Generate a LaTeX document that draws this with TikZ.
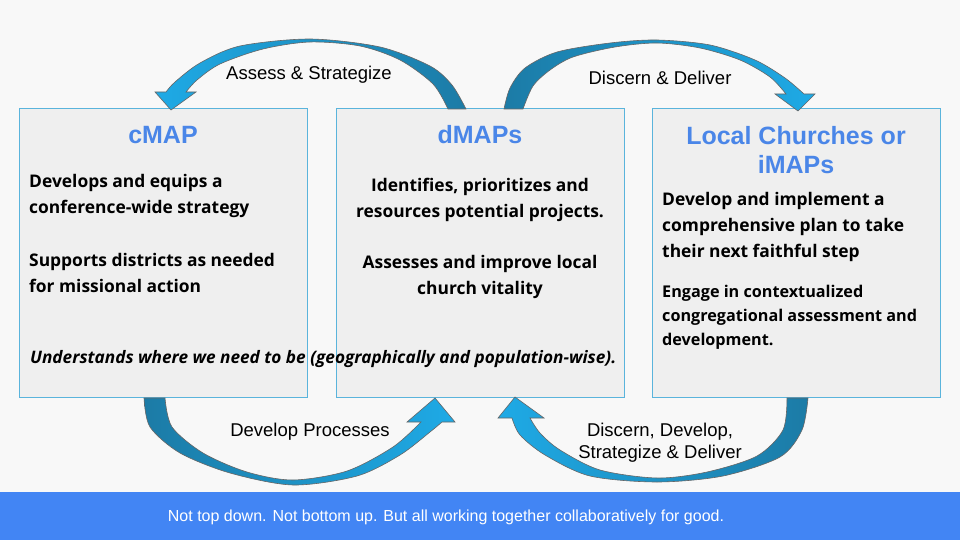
\documentclass[tikz,border=0pt]{standalone}
\usepackage{fontspec}
\setmainfont{Open Sans}
\newfontfamily\arialfont{Liberation Sans}
\usetikzlibrary{positioning}
\definecolor{pagebg}{HTML}{F8F8F8}
\definecolor{boxfill}{HTML}{EFEFEF}
\definecolor{boxline}{HTML}{5AB4DC}
\definecolor{titleblue}{HTML}{4A86E8}
\definecolor{bannerblue}{HTML}{4285F4}
\definecolor{arrowlight}{HTML}{1EAAE6}
\definecolor{arrowdark}{HTML}{1C7BA6}
\tikzset{
  mapbox/.style={rectangle, draw=boxline, fill=boxfill, line width=1pt, minimum width=288pt, minimum height=288pt, inner sep=0pt, outer sep=0pt},
  maptitle/.style={font=\arialfont\bfseries\fontsize{25}{29}\selectfont, text=titleblue, align=center, inner sep=0pt},
  bodytext/.style={font=\bfseries\fontsize{17.4}{26}\selectfont, inner sep=0pt},
  looptext/.style={font=\arialfont\fontsize{18.5}{22}\selectfont, align=center, inner sep=0pt},
  looparrow/.style={draw=black!60, line width=0.6pt}
}

\begin{document}
\begin{tikzpicture}[x=1pt, y=-1pt, node distance=29pt]
\useasboundingbox (0,0) rectangle (960,540);
\fill[pagebg] (0,0) rectangle (960,540);

% Boxes
\node (cmap) [mapbox] at (163,253) {};
\node (dmaps) [mapbox, right=29pt of cmap] {};
\node (local) [mapbox, right=28pt of dmaps] {};

% Loop arrows
\shadedraw[looparrow, left color=arrowlight, right color=arrowdark]
  plot[smooth] coordinates {(466,109) (452,85) (430,66) (380,47) (310,39) (240,46) (200,63) (175,82) (166,92)}
  -- (155,92) -- (171,110) -- (196,92)
  -- plot[smooth] coordinates {(186,92) (197,80) (220,64) (263,49) (310,42) (360,46) (400,60) (433,84) (448,109)} -- cycle;
\shadedraw[looparrow, left color=arrowdark, right color=arrowlight]
  plot[smooth] coordinates {(504,109) (510,88) (525,68) (557,52) (610,43) (657,40) (710,45) (755,60) (785,78) (804,94)}
  -- (815,94) -- (798,111) -- (775,94)
  -- plot[smooth] coordinates {(786,94) (770,77) (740,60) (700,48) (657,43) (615,47) (573,57) (550,70) (533,86) (523,109)} -- cycle;
\shadedraw[looparrow, left color=arrowdark, right color=arrowlight]
  plot[smooth] coordinates {(144,398) (150,427) (180,453) (230,473) (293,485) (357,476) (400,455) (430,432) (442,422)}
  -- (455,422) -- (435,398) -- (407,422)
  -- plot[smooth] coordinates {(421,422) (393,447) (347,471) (293,480) (247,472) (203,453) (172,427) (165,398)} -- cycle;
\shadedraw[looparrow, left color=arrowlight, right color=arrowdark]
  plot[smooth] coordinates {(808,398) (802,430) (780,457) (723,476) (657,482) (590,476) (545,455) (520,435) (512,418)}
  -- (498,418) -- (515,397) -- (544,418)
  -- plot[smooth] coordinates {(530,418) (540,433) (560,450) (600,470) (657,478) (707,472) (757,456) (783,430) (787,398)} -- cycle;

% Arrow labels
\node (assess) [looptext] at (309,75) {Assess \& Strategize};
\node (discern) [looptext] at (660,78) {Discern \& Deliver};
\node (develop) [looptext] at (310,432) {Develop Processes};
\node (deliver) [looptext] at (660,443) {Discern, Develop,\\Strategize \& Deliver};

% Titles
\node (cmaptitle) [maptitle] at (163,135) {cMAP};
\node (dmapstitle) [maptitle] at (480,135) {dMAPs};
\node (localtitle) [maptitle] at (796,150) {Local Churches or\\iMAPs};

% Box texts
\node (equips) [bodytext, align=left, anchor=west] at (29,196) {Develops and equips a\\conference-wide strategy};
\node (supports) [bodytext, align=left, anchor=west] at (29,273) {Supports districts as needed\\for missional action};
\node (understands) [bodytext, anchor=west, font=\bfseries\itshape\fontsize{17.2}{26}\selectfont] at (30,359) {Understands where we need to be (geographically and population-wise).};
\node (identifies) [bodytext, align=center] at (480,200) {Identifies, prioritizes and\\resources potential projects.};
\node (assesses) [bodytext, align=center] at (480,277) {Assesses and improve local\\church vitality};
\node (implement) [bodytext, align=left, anchor=west] at (662,227) {Develop and implement a\\comprehensive plan to take\\their next faithful step};
\node (engage) [bodytext, align=left, anchor=west, font=\bfseries\fontsize{16.2}{24}\selectfont] at (662,317) {Engage in contextualized\\congregational assessment and\\development.};

% Banner
\fill[bannerblue] (0,492) rectangle (960,540);
\node (motto) [text=white, font=\arialfont\fontsize{16}{18}\selectfont] at (446,517) {Not top down. Not bottom up. But all working together collaboratively for good.};

\end{tikzpicture}
\end{document}
